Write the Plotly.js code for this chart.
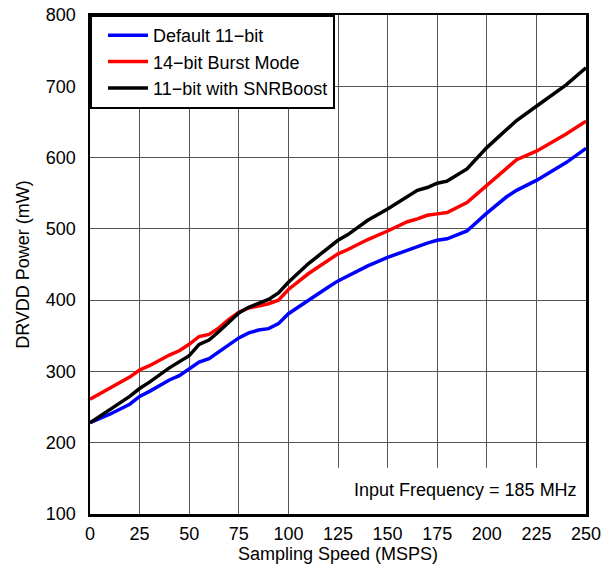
<!DOCTYPE html>
<html>
<head>
<meta charset="utf-8">
<script src="https://cdn.plot.ly/plotly-3.0.1.min.js"></script>
<style>html,body{margin:0;padding:0;background:#fff;}#chart{width:604px;height:564px;}</style>
</head>
<body>
<div id="chart"></div>
<script>
const speed = [0,10,20,25,30,40,45,50,55,60,65,70,75,80,85,90,95,100,110,120,125,130,140,150,160,165,170,175,180,190,200,210,215,225,240,250];
const default11 = [228,240,254,265,272,288,294,303,313,318,328,338,347,354,358,360,367,381,400,418,427,434,448,460,470,476,480,484,486,497,522,545,554,568,593,613];
const burst14 = [261,276,292,302,308,323,329,338,349,352,361,373,383,389,392,395,400,415,437,455,465,471,485,497,510,514,519,521,523,537,561,586,597,609,633,651];
const snrBoost = [228,246,265,276,285,305,313,322,338,344,356,369,382,390,396,401,410,425,451,472,484,492,512,528,546,554,558,564,567,584,614,640,652,672,702,726];
const seriesNames = ["Default 11\u2212bit","14\u2212bit Burst Mode","11\u2212bit with SNRBoost"];
const xTicks = [0,25,50,75,100,125,150,175,200,225,250];
const yTicks = [100,200,300,400,500,600,700,800];

const font = {family:"Liberation Sans, Arial, sans-serif", size:18, color:"#000"};
const traces = [
  {x:speed, y:default11, name:seriesNames[0], mode:"lines", line:{color:"#0000ff", width:3.5}},
  {x:speed, y:burst14, name:seriesNames[1], mode:"lines", line:{color:"#ff0000", width:3.5}},
  {x:speed, y:snrBoost, name:seriesNames[2], mode:"lines", line:{color:"#000000", width:3.5}}
];
const layout = {
  width:604, height:564,
  margin:{l:90, r:18, t:15, b:50},
  paper_bgcolor:"#fff", plot_bgcolor:"#fff",
  font:font,
  showlegend:true,
  legend:{x:0, y:1, xanchor:"left", yanchor:"top", bgcolor:"#fff", bordercolor:"#000", borderwidth:2, font:font, tracegroupgap:0, itemwidth:40, indentation:11},
  xaxis:{range:[0,250], tickvals:xTicks, ticktext:xTicks.map(String), showgrid:true, gridcolor:"#555", gridwidth:1,
    showline:true, linecolor:"#000", linewidth:2.5, mirror:true, ticks:"outside", ticklen:2, tickcolor:"rgba(0,0,0,0)", zeroline:false, tickfont:font,
    title:{text:"Sampling Speed (MSPS)", font:font, standoff:4}},
  yaxis:{range:[100,800], tickvals:yTicks, ticktext:yTicks.map(String), showgrid:true, gridcolor:"#555", gridwidth:1,
    showline:true, linecolor:"#000", linewidth:2.5, mirror:true, ticks:"outside", ticklen:8, tickcolor:"rgba(0,0,0,0)", zeroline:false, tickfont:font,
    title:{text:"DRVDD Power (mW)", font:font, standoff:12}},
  shapes:[{type:"rect", xref:"x", yref:"y", x0:108, x1:250, y0:100, y1:165, fillcolor:"#fff", line:{width:0}, layer:"between"}],
  annotations:[{xref:"paper", yref:"paper", x:0.985, y:0.025, xanchor:"right", yanchor:"bottom", text:"Input Frequency = 185 MHz", showarrow:false, font:font}]
};
Plotly.newPlot("chart", traces, layout, {displayModeBar:false, staticPlot:true});
</script>
</body>
</html>
